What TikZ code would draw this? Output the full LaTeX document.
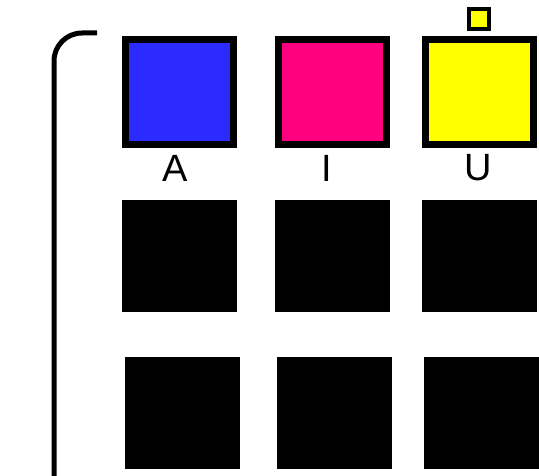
\documentclass[tikz,border=0pt]{standalone}
\usepackage{fontspec}
\setmainfont{Liberation Sans}
\usepackage{tikz}
\usetikzlibrary{positioning}
\definecolor{vowelA}{HTML}{2B2BFF}
\definecolor{vowelI}{HTML}{FF007F}
\definecolor{vowelU}{HTML}{FFFF00}
\tikzset{
    % squares
    sqBase/.style={
        rectangle,
        draw=black,
        line width=7pt,
        minimum width=108pt,
        minimum height=105pt,
        inner sep=0pt
    },
    vowA/.style={sqBase, fill=vowelA},
    vowI/.style={sqBase, fill=vowelI},
    vowU/.style={sqBase, fill=vowelU},
    blank/.style={sqBase, fill=black},
    tiny/.style={rectangle, draw=black, line width=4pt, fill=vowelU, minimum size=20pt, inner sep=0pt},
    % labels
    vowLabel/.style={font=\fontsize{38}{40}\selectfont, inner sep=0pt}
}
\begin{document}
\begin{tikzpicture}[x=1pt, y=-1pt]
\useasboundingbox (0,0) rectangle (539,476);

\node[vowA] (sqA) at (179.5,92) {};
\node[vowI] (sqI) at (332.5,92) {};
\node[vowU] (sqU) at (479,92) {};
\node[tiny] (mark) at (479,19) {};

\node[vowLabel] (labA) at (175,168) {A};
\node[vowLabel] (labI) at (327,168) {I};
\node[vowLabel] (labU) at (478,168) {U};

\node[blank] (b21) at (179.5,256.5) {};
\node[blank] (b22) at (332.5,256.5) {};
\node[blank] (b23) at (479,256.5) {};
\node[blank] (b31) at (182.5,413) {};
\node[blank] (b32) at (334.5,413) {};
\node[blank] (b33) at (481.5,413) {};

\draw[line width=5pt, rounded corners=28pt] (54,480) -- (54,33) -- (97,33);
\end{tikzpicture}
\end{document}
